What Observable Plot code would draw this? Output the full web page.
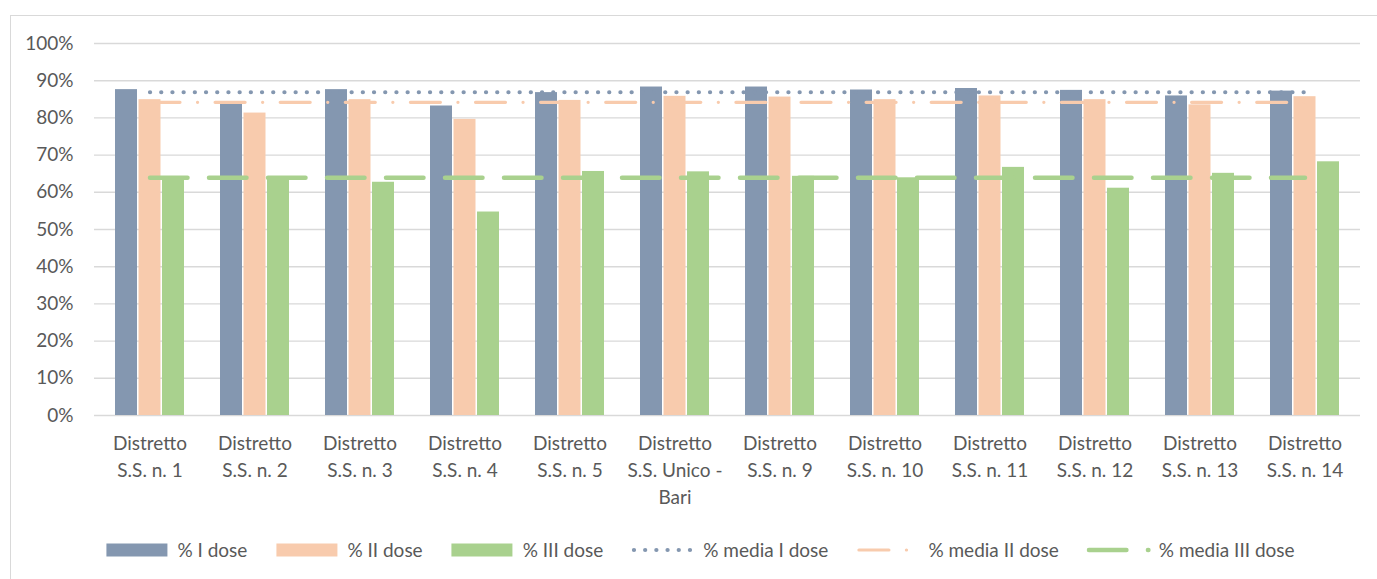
<!DOCTYPE html>
<html><head><meta charset="utf-8">
<script src="https://cdn.jsdelivr.net/npm/d3@7"></script>
<script src="https://cdn.jsdelivr.net/npm/@observablehq/plot@0.6"></script>
<style>
body{margin:0;background:#fff;font-family:Lato,sans-serif;}
#wrap{position:relative;width:1377px;height:579px;overflow:hidden;background:#fff;}
#frame{position:absolute;left:10px;top:15px;width:1400px;height:600px;border-left:1.5px solid #d9d9d9;border-top:1.5px solid #d9d9d9;}
#chart{position:absolute;left:0;top:0;}
#legend{position:absolute;top:538px;left:700px;transform:translateX(-50%);display:flex;align-items:center;white-space:nowrap;font-size:19px;color:#595959;font-family:Lato,sans-serif;}
.item{display:flex;align-items:center;margin:0 14px;}
.item svg{margin-right:7px;display:block;}
</style></head><body>
<div id="wrap"><div id="frame"></div><div id="chart"></div><div id="legend"></div></div>
<script>
const categories = ["Distretto\nS.S. n. 1","Distretto\nS.S. n. 2","Distretto\nS.S. n. 3","Distretto\nS.S. n. 4","Distretto\nS.S. n. 5","Distretto\nS.S. Unico -\nBari","Distretto\nS.S. n. 9","Distretto\nS.S. n. 10","Distretto\nS.S. n. 11","Distretto\nS.S. n. 12","Distretto\nS.S. n. 13","Distretto\nS.S. n. 14"];
const doseI   = [0.876,0.838,0.876,0.832,0.868,0.883,0.883,0.875,0.879,0.874,0.859,0.872];
const doseII  = [0.849,0.813,0.849,0.796,0.847,0.858,0.856,0.849,0.859,0.849,0.835,0.857];
const doseIII = [0.642,0.642,0.627,0.547,0.656,0.655,0.643,0.639,0.667,0.611,0.651,0.682];
const meanI = 0.869, meanII = 0.842, meanIII = 0.639;
const yTicks = [0,0.1,0.2,0.3,0.4,0.5,0.6,0.7,0.8,0.9,1.0];
const seriesNames = ["% I dose","% II dose","% III dose","% media I dose","% media II dose","% media III dose"];
const colors = {I:"#8497b0", II:"#f8cbad", III:"#a9d18e"};

const data = categories.map((c,i)=>({cat:c, I:doseI[i], II:doseII[i], III:doseIII[i]}));
const ends = [categories[0], categories[categories.length-1]];
const inset = 41.5, off = 23.5;

const lineStyles = {
  I:  {stroke:colors.I,  strokeWidth:4.2, strokeDasharray:"0.1,11.1", strokeLinecap:"round"},
  II: {stroke:colors.II, strokeWidth:3.2, strokeDasharray:"30,17.5,0.1,17.5", strokeLinecap:"round"},
  III:{stroke:colors.III,strokeWidth:4.5, strokeDasharray:"37.5,21.5", strokeLinecap:"round"}
};

const chart = Plot.plot({
  width:1377, height:520,
  marginLeft:94, marginRight:17, marginTop:43, marginBottom:105,
  style:{fontFamily:"Lato, sans-serif", fontSize:"19px", color:"#595959", background:"transparent"},
  x:{domain:categories, padding:0, label:null},
  y:{domain:[0,1], label:null},
  marks:[
    Plot.gridY(yTicks, {stroke:"#d9d9d9", strokeOpacity:1, strokeWidth:1.4}),
    Plot.barY(data, {x:"cat", y:"I", fill:colors.I, insetLeft:inset, insetRight:inset, dx:-off}),
    Plot.barY(data, {x:"cat", y:"II", fill:colors.II, insetLeft:inset, insetRight:inset}),
    Plot.barY(data, {x:"cat", y:"III", fill:colors.III, insetLeft:inset, insetRight:inset, dx:off}),
    Plot.lineY(ends, {x:d=>d, y:()=>meanI, ...lineStyles.I}),
    Plot.lineY(ends, {x:d=>d, y:()=>meanII, ...lineStyles.II}),
    Plot.lineY(ends, {x:d=>d, y:()=>meanIII, ...lineStyles.III}),
    Plot.axisY(yTicks, {tickSize:0, tickPadding:21, tickFormat:d=>Math.round(d*100)+"%", fontSize:19, label:null}),
    Plot.axisX({tickSize:0, tickPadding:15, lineHeight:1.42, fontSize:19, label:null})
  ]
});
document.getElementById("chart").appendChild(chart);

// legend
const legend = document.getElementById("legend");
const ns = "http://www.w3.org/2000/svg";
const keys = ["I","II","III","I","II","III"];
seriesNames.forEach((name,i)=>{
  const item = document.createElement("div"); item.className="item";
  const svg = document.createElementNS(ns,"svg");
  svg.setAttribute("width",65); svg.setAttribute("height",16);
  const k = keys[i];
  if (i<3){
    const r = document.createElementNS(ns,"rect");
    r.setAttribute("x",1); r.setAttribute("y",1.5); r.setAttribute("width",61); r.setAttribute("height",13);
    r.setAttribute("fill",colors[k]); svg.appendChild(r);
  } else {
    const s = lineStyles[k];
    const l = document.createElementNS(ns,"line");
    l.setAttribute("x1",2.5); l.setAttribute("x2",62); l.setAttribute("y1",8); l.setAttribute("y2",8);
    l.setAttribute("stroke",s.stroke); l.setAttribute("stroke-width",s.strokeWidth);
    l.setAttribute("stroke-dasharray",s.strokeDasharray); l.setAttribute("stroke-linecap","round");
    svg.appendChild(l);
  }
  const t = document.createElement("span"); t.textContent = name;
  item.appendChild(svg); item.appendChild(t); legend.appendChild(item);
});
</script>
</body></html>
